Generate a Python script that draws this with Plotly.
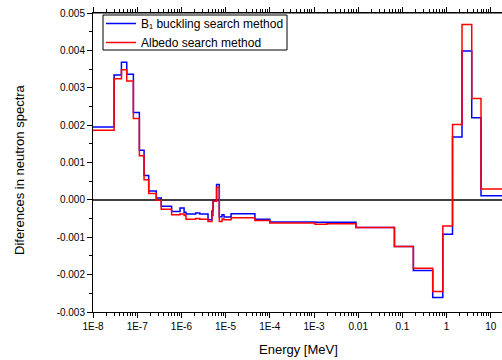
import plotly.graph_objects as go

# Bin edges (MeV)
edges = [1e-8, 3e-8, 4.4e-8, 5.8e-8, 8.2e-8, 1.12e-7, 1.43e-7, 1.82e-7, 2.7e-7, 3.5e-7,
         6.0e-7, 9.3e-7, 1.15e-6, 1.27e-6, 2.1e-6, 2.6e-6, 4.0e-6, 4.9e-6, 5.2e-6, 6.25e-6,
         7.2e-6, 8.3e-6, 9.2e-6, 1.33e-5, 4.6e-5, 1.0e-4, 1.05e-3, 1.95e-3, 8.9e-3, 0.066,
         0.177, 0.485, 0.82, 1.36, 2.23, 3.7, 6.0, 20.0]

b1_diff = [1.95, 3.34, 3.68, 3.36, 2.34, 1.33, 0.65, 0.24, 0.05, -0.17,
           -0.31, -0.22, -0.33, -0.38, -0.35, -0.38, -0.53, -0.30, -0.02, 0.41,
           -0.45, -0.40, -0.46, -0.37, -0.52, -0.59, -0.60, -0.60, -0.74, -1.25,
           -1.89, -2.61, -0.92, 1.68, 3.98, 2.20, 0.11]

albedo_diff = [1.86, 3.24, 3.48, 3.18, 2.18, 1.18, 0.54, 0.17, -0.01, -0.25,
               -0.40, -0.38, -0.42, -0.52, -0.50, -0.52, -0.58, -0.42, -0.04, 0.34,
               -0.58, -0.51, -0.53, -0.48, -0.55, -0.62, -0.65, -0.64, -0.74, -1.25,
               -1.83, -2.45, -0.70, 2.02, 4.69, 2.71, 0.29]

tick_vals = [1e-8, 1e-7, 1e-6, 1e-5, 1e-4, 1e-3, 0.01, 0.1, 1, 10]
tick_text = ["1E-8", "1E-7", "1E-6", "1E-5", "1E-4", "1E-3", "0.01", "0.1", "1", "10"]

y_tick_vals = [-0.003, -0.002, -0.001, 0.0, 0.001, 0.002, 0.003, 0.004, 0.005]
y_tick_text = ["-0.003", "-0.002", "-0.001", "0.000", "0.001", "0.002", "0.003", "0.004", "0.005"]

x_title = "Energy [MeV]"
y_title = "Diferences in neutron spectra"

def steps(vals):
    ys = [v * 1e-3 for v in vals]
    return ys + [ys[-1]]

fig = go.Figure()
fig.add_trace(go.Scatter(x=edges, y=steps(b1_diff), mode="lines", line_shape="hv",
                         line=dict(color="#0000FF", width=1.5),
                         name="B\u2081 buckling search method"))
fig.add_trace(go.Scatter(x=edges, y=steps(albedo_diff), mode="lines", line_shape="hv",
                         line=dict(color="#FF0000", width=1.5),
                         name="Albedo search method"))

font = "Liberation Sans, Arial, sans-serif"

W, H = 502, 360
L, T, PW, PH = 93, 13, 409, 299

def px(x):
    return (x - L) / PW

def py(y):
    return ((T + PH) - y) / PH

fig.add_shape(type="line", xref="paper", yref="y", x0=0, x1=1, y0=0, y1=0,
              line=dict(color="black", width=1.5), layer="below")
# top frame
fig.add_shape(type="line", xref="paper", yref="paper", x0=0, x1=1, y0=1, y1=1,
              line=dict(color="black", width=1), layer="above")
# legend frame
fig.add_shape(type="rect", xref="paper", yref="paper", x0=px(103), x1=px(287),
              y0=py(50), y1=py(15), line=dict(color="black", width=1),
              fillcolor="white", layer="above")

fig.add_annotation(text=x_title, xref="paper", yref="paper",
                   x=px(298), y=py(349),
                   xanchor="center", yanchor="middle", showarrow=False,
                   font=dict(size=13, family=font, color="black"))
fig.add_annotation(text=y_title, xref="paper", yref="paper",
                   x=px(19), y=py(170), textangle=-90,
                   xanchor="center", yanchor="middle", showarrow=False,
                   font=dict(size=13, family=font, color="black"))

fig.update_layout(
    width=W, height=H,
    margin=dict(l=L, r=W - L - PW, t=T, b=H - T - PH, autoexpand=False),
    paper_bgcolor="white", plot_bgcolor="white",
    font=dict(family=font, size=10, color="black"),
    showlegend=True,
    legend=dict(x=px(101), y=py(9), xanchor="left", yanchor="top",
                borderwidth=0, bgcolor="rgba(0,0,0,0)",
                font=dict(size=12, family=font), tracegroupgap=0,
                itemwidth=30),
    xaxis=dict(type="log", range=[-8, 1.253], tickvals=tick_vals, ticktext=tick_text,
               ticks="outside", ticklen=5, tickwidth=1, tickcolor="black",
               showline=True, linecolor="black", linewidth=1, mirror="ticks",
               showgrid=False, zeroline=False, automargin=False,
               tickfont=dict(size=10, family=font),
               minor=dict(ticks="outside", ticklen=3, tickcolor="black", dtick="D1", showgrid=False)),
    yaxis=dict(range=[-0.003, 0.005], tickvals=y_tick_vals, ticktext=y_tick_text,
               ticks="outside", ticklen=5, tickwidth=1, tickcolor="black",
               showline=True, linecolor="black", linewidth=1,
               showgrid=False, zeroline=False, automargin=False,
               tickfont=dict(size=10, family=font),
               minor=dict(ticks="outside", ticklen=3, tickcolor="black", dtick=0.0005, showgrid=False)),
)

fig.write_html("out.html", config={"displayModeBar": False},
               post_script="document.body.style.margin='0';document.body.style.overflow='hidden';")
